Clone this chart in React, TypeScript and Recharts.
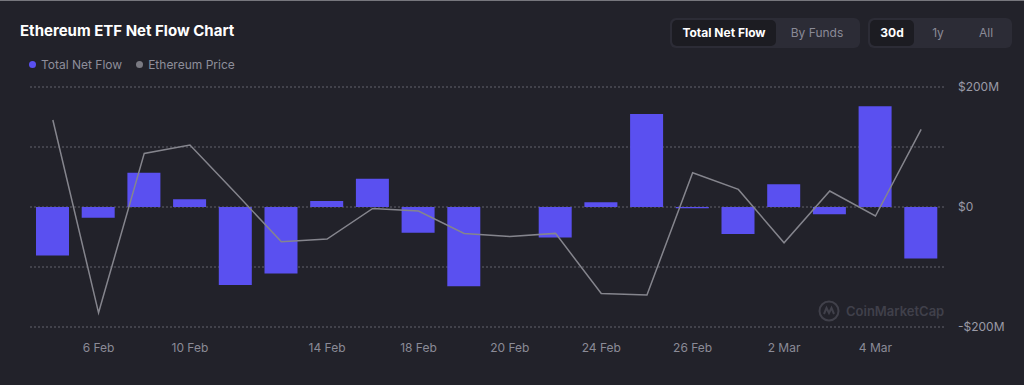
import React from "react";
import { ComposedChart, Bar, Line, XAxis, YAxis, CartesianGrid } from "recharts";

const dates = [
  "5 Feb", "6 Feb", "7 Feb", "10 Feb", "11 Feb", "13 Feb", "14 Feb", "17 Feb", "18 Feb", "19 Feb",
  "20 Feb", "21 Feb", "24 Feb", "25 Feb", "26 Feb", "28 Feb", "2 Mar", "3 Mar", "4 Mar", "5 Mar",
];
const netFlow = [-81, -18, 57, 13, -130, -111, 10, 47, -43, -132, 0, -51, 8, 155, -2, -45, 38, -12, 168, -86];
const ethPrice = [
  3035, 2071, 2868, 2910, 2670, 2426, 2440, 2593, 2580, 2468,
  2452, 2468, 2168, 2160, 2771, 2688, 2421, 2680, 2555, 2988,
];
const xTicks = ["6 Feb", "10 Feb", "14 Feb", "18 Feb", "20 Feb", "24 Feb", "26 Feb", "2 Mar", "4 Mar"];
const yTicks = [-200, -100, 0, 100, 200];

const chartData = dates.map((d, i) => ({ date: d, flow: netFlow[i], price: ethPrice[i] }));

const BG = "#22222a";
const FONT = "Inter, 'Noto Sans', sans-serif";

const fmtY = (v: number) => {
  if (v === 0) return "$0";
  if (v === 200) return "$200M";
  if (v === -200) return "-$200M";
  return "";
};

const Dot = ({ color }: { color: string }) => (
  <span style={{ display: "inline-block", width: 7, height: 7, borderRadius: "50%", background: color, marginRight: 5 }} />
);

const btn = (label: string, active: boolean, w: number) => (
  <div
    style={{
      width: w,
      height: 26,
      lineHeight: "26px",
      textAlign: "center",
      borderRadius: 5,
      background: active ? "#1c1c22" : "transparent",
      color: active ? "#ffffff" : "#8a8a96",
      fontWeight: active ? 700 : 400,
      fontSize: 12,
    }}
  >
    {label}
  </div>
);

export default function App() {
  return (
    <div style={{ position: "relative", width: 1024, height: 385, background: BG, fontFamily: FONT, overflow: "hidden", borderTop: "1px solid #77777d", boxSizing: "border-box" }}>
      <style>{`body{margin:0}`}</style>
      <div style={{ position: "absolute", left: 20, top: 20, color: "#fff", fontWeight: 700, fontSize: 15 }}>
        Ethereum ETF Net Flow Chart
      </div>
      <div style={{ position: "absolute", left: 29, top: 56, fontSize: 12, color: "#8e8e9a", display: "flex", alignItems: "center" }}>
        <Dot color="#5a50f0" />
        <span style={{ marginRight: 14 }}>Total Net Flow</span>
        <Dot color="#7a7a82" />
        <span>Ethereum Price</span>
      </div>

      <div style={{ position: "absolute", left: 670, top: 17, display: "flex", padding: 2, background: "#2c2c36", borderRadius: 6 }}>
        {btn("Total Net Flow", true, 104)}
        {btn("By Funds", false, 82)}
      </div>
      <div style={{ position: "absolute", left: 868, top: 17, display: "flex", padding: 2, background: "#2c2c36", borderRadius: 6 }}>
        {btn("30d", true, 44)}
        {btn("1y", false, 48)}
        {btn("All", false, 48)}
      </div>

      <div style={{ position: "absolute", left: 0, top: -1 }}>
        <ComposedChart width={1024} height={385} data={chartData} margin={{ top: 87, right: 0, bottom: 28, left: 30 }}>
          <CartesianGrid yAxisId="flow" vertical={false} stroke="#62626c" strokeDasharray="2 2" />
          <XAxis
            dataKey="date"
            ticks={xTicks}
            interval={0}
            axisLine={false}
            tickLine={false}
            tickMargin={10}
            height={30}
            tick={{ fill: "#8b8b97", fontSize: 12, fontFamily: FONT }}
          />
          <YAxis
            yAxisId="flow"
            orientation="right"
            domain={[-200, 200]}
            ticks={yTicks}
            tickFormatter={fmtY}
            axisLine={false}
            tickLine={false}
            tickMargin={8}
            width={80}
            tick={{ fill: "#9a9aa6", fontSize: 12, fontFamily: FONT, textAnchor: "start" }}
          />
          <YAxis yAxisId="price" hide domain={[2000, 3200]} />
          <Bar yAxisId="flow" dataKey="flow" fill="#5a50f0" barSize={33} isAnimationActive={false} />
          <Line
            yAxisId="price"
            dataKey="price"
            type="linear"
            stroke="#85858d"
            strokeWidth={1.5}
            dot={false}
            isAnimationActive={false}
          />
        </ComposedChart>
      </div>

      <div style={{ position: "absolute", left: 818, top: 299, display: "flex", alignItems: "center", color: "#40404a", fontSize: 13, fontWeight: 600 }}>
        <svg width={22} height={22} viewBox="0 0 22 22" style={{ marginRight: 6 }}>
          <circle cx={11} cy={11} r={9.5} fill="none" stroke="#40404a" strokeWidth={2} />
          <path d="M6 14 L8.5 8 L11 13 L13.5 8 L16 14" fill="none" stroke="#40404a" strokeWidth={2} />
        </svg>
        CoinMarketCap
      </div>
    </div>
  );
}
